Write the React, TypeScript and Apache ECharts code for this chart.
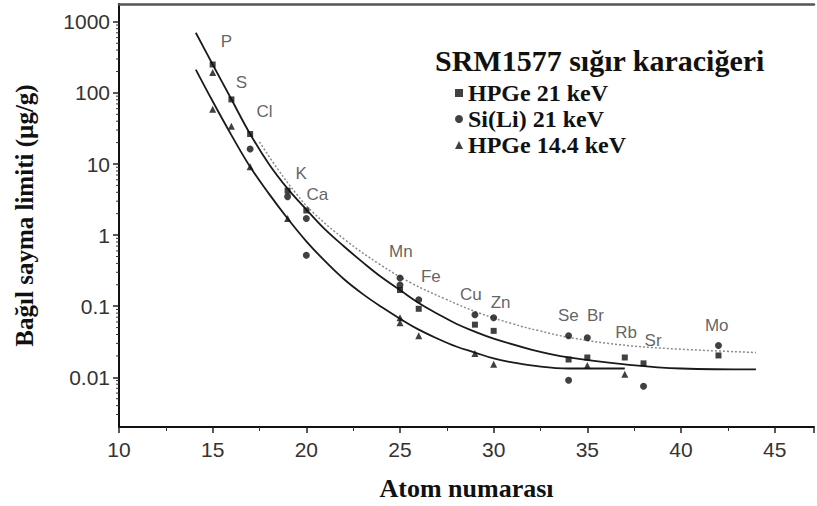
import React, { useEffect, useRef } from "react";
import * as echarts from "echarts";

// ---- axis ----
const X_MIN = 10;
const X_MAX = 47.1;
const Y_MIN = 0.002;
const Y_MAX = 1780;
const decades = [0.001, 0.01, 0.1, 1, 10, 100, 1000];
const minorMultipliers = [2, 3, 4, 5, 6, 7, 8, 9];

// ---- measured points [atomic number, detection limit µg/g] ----
const hpge21Points: [number, number][] = [
  [15, 251], [16, 81], [17, 26.4], [19, 4.22], [20, 2.22], [25, 0.169], [26, 0.092],
  [29, 0.055], [30, 0.045], [34, 0.0178], [35, 0.019], [37, 0.019], [38, 0.0157], [42, 0.0203],
];
const sili21Points: [number, number][] = [
  [17, 16.3], [19, 3.48], [20, 1.71], [20, 0.52], [25, 0.249], [25, 0.199], [26, 0.123],
  [29, 0.0757], [30, 0.0687], [34, 0.0385], [34, 0.0091], [35, 0.0361], [38, 0.0075], [42, 0.028],
];
const hpge144Points: [number, number][] = [
  [15, 194], [15, 59], [16, 34.1], [17, 9.12], [19, 1.71], [25, 0.0687], [25, 0.0586],
  [26, 0.0385], [29, 0.0216], [30, 0.0152], [35, 0.0147], [37, 0.011],
];

// ---- fitted curves ----
const upperCurve: [number, number][] = [
  [14.1, 701], [15, 251], [16, 81.3], [17, 26.4], [18, 10.0], [19, 4.5], [20, 2.29], [21, 1.2],
  [22, 0.697], [23, 0.417], [24, 0.257], [25, 0.169], [26, 0.111], [27, 0.0782], [28, 0.0567],
  [29, 0.0439], [30, 0.035], [32, 0.0246], [34, 0.019], [37, 0.0152], [40, 0.0133], [44, 0.0129],
];
const lowerCurve: [number, number][] = [
  [14.1, 213], [15, 76.3], [16, 25.5], [17, 9.12], [18, 3.83], [19, 1.71], [20, 0.818],
  [21, 0.43], [22, 0.241], [23, 0.149], [24, 0.098], [25, 0.0667], [26, 0.0468], [27, 0.035],
  [28, 0.0271], [29, 0.0223], [30, 0.0184], [31, 0.0162], [32, 0.0147], [34, 0.0133], [37, 0.0133],
];
const dottedCurve: [number, number][] = [
  [17.5, 20.4], [18.5, 8.29], [19.5, 3.71], [20.3, 2.15], [22.1, 0.845], [23.9, 0.391],
  [25.6, 0.212], [27.4, 0.127], [29.2, 0.0807], [31, 0.0567], [32.4, 0.0453], [34.1, 0.0361],
  [36.7, 0.0288], [39.3, 0.0254], [44, 0.0223],
];

// ---- element annotations ----
const elementNames = ["P", "S", "Cl", "K", "Ca", "Mn", "Fe", "Cu", "Zn", "Se", "Br", "Rb", "Sr", "Mo"];
const elementLabelZ = [15.74, 16.54, 17.77, 19.73, 20.59, 25.05, 26.65, 28.78, 30.37, 33.99, 35.43, 37.07, 38.51, 41.91];
const elementLabelY = [525, 141, 55.3, 7.29, 3.71, 0.593, 0.265, 0.144, 0.111, 0.0733, 0.0733, 0.0425, 0.0328, 0.0532];

const legendTitle = "SRM1577 sığır karaciğeri";
const seriesNames = ["HPGe 21 keV", "Si(Li) 21 keV", "HPGe 14.4 keV"];

const SERIF = "'Liberation Serif', 'DejaVu Serif', serif";
const SANS = "'Liberation Sans', Arial, sans-serif";

export default function App() {
  const ref = useRef<HTMLDivElement>(null);
  useEffect(() => {
    if (!ref.current) return;
    const chart = echarts.init(ref.current, null, { renderer: "svg" });
    const minorTicks: [number, number][] = [];
    decades.forEach((d) =>
      minorMultipliers.forEach((m) => {
        const v = d * m;
        if (v > Y_MIN && v < Y_MAX) minorTicks.push([X_MIN, v]);
      })
    );
    const curveStyle = { color: "#1a1a1a", width: 1.8 };
    chart.setOption({
      animation: false,
      backgroundColor: "#ffffff",
      title: {
        text: legendTitle,
        left: 430,
        top: 40,
        textStyle: { fontFamily: SERIF, fontWeight: "bold", fontSize: 30, color: "#111" },
      },
      legend: {
        data: seriesNames,
        orient: "vertical",
        left: 450,
        top: 76,
        itemWidth: 8,
        itemHeight: 8,
        itemGap: 2,
        textStyle: {
          fontFamily: SERIF,
          fontWeight: "bold",
          fontSize: 24,
          lineHeight: 24,
          color: "#111",
        },
        selectedMode: false,
      },
      grid: { left: 119, right: 0, top: 4, bottom: 76 },
      xAxis: [
        {
          type: "value",
          min: X_MIN,
          max: X_MAX,
          interval: 5,
          name: "Atom numarası",
          nameLocation: "middle",
          nameGap: 48,
          nameTextStyle: { fontFamily: SERIF, fontWeight: "bold", fontSize: 26, color: "#111" },
          splitLine: { show: false },
          axisLine: { lineStyle: { color: "#111", width: 2 } },
          axisTick: { length: 6, lineStyle: { color: "#222", width: 1.5 } },
          minorTick: { show: true, splitNumber: 2, length: 4, lineStyle: { color: "#333" } },
          axisLabel: {
            margin: 12,
            fontFamily: SANS,
            fontSize: 21,
            color: "#333",
            formatter: (v: number) => (v > 45 ? "" : String(v)),
          },
        },
        {
          type: "value",
          position: "top",
          min: X_MIN,
          max: X_MAX,
          axisLine: { show: true, lineStyle: { color: "#555", width: 2.5 } },
          axisTick: { show: false },
          axisLabel: { show: false },
          splitLine: { show: false },
        },
      ],
      yAxis: {
        type: "log",
        logBase: 10,
        min: Y_MIN,
        max: Y_MAX,
        name: "Bağıl sayma limiti (µg/g)",
        nameLocation: "middle",
        nameGap: 82,
        nameTextStyle: { fontFamily: SERIF, fontWeight: "bold", fontSize: 25, color: "#111" },
        splitLine: { show: false },
        axisLine: { show: true, lineStyle: { color: "#111", width: 2 } },
        axisTick: { length: 6, lineStyle: { color: "#222", width: 1.5 } },
        axisLabel: {
          margin: 9,
          fontFamily: SANS,
          fontSize: 21,
          color: "#333",
          showMinLabel: false,
          showMaxLabel: false,
          formatter: (v: number) => {
            if (v < 0.0095 || v > 1100) return "";
            return String(Number(v.toPrecision(1)));
          },
        },
      },
      series: [
        {
          type: "custom",
          silent: true,
          clip: false,
          data: minorTicks,
          encode: { x: 0, y: 1 },
          renderItem: (_p: any, api: any) => {
            const pt = api.coord([api.value(0), api.value(1)]);
            return {
              type: "line",
              shape: { x1: pt[0] - 3, y1: pt[1], x2: pt[0], y2: pt[1] },
              style: { stroke: "#333", lineWidth: 1 },
            };
          },
        },
        {
          type: "line",
          data: upperCurve,
          smooth: 0.4,
          showSymbol: false,
          silent: true,
          lineStyle: curveStyle,
          z: 2,
        },
        {
          type: "line",
          data: lowerCurve,
          smooth: 0.4,
          showSymbol: false,
          silent: true,
          lineStyle: curveStyle,
          z: 2,
        },
        {
          type: "line",
          data: dottedCurve,
          smooth: 0.4,
          showSymbol: false,
          silent: true,
          lineStyle: { color: "#8a8a8a", width: 1.5, type: [2, 2] },
          z: 2,
        },
        {
          name: seriesNames[0],
          type: "scatter",
          symbol: "rect",
          symbolSize: 6,
          itemStyle: { color: "#111" },
          data: hpge21Points,
          z: 5,
        },
        {
          name: seriesNames[1],
          type: "scatter",
          symbol: "circle",
          symbolSize: 7,
          itemStyle: { color: "#111" },
          data: sili21Points,
          z: 5,
        },
        {
          name: seriesNames[2],
          type: "scatter",
          symbol: "triangle",
          symbolSize: 7,
          itemStyle: { color: "#111" },
          data: hpge144Points,
          z: 5,
        },
        {
          type: "scatter",
          symbolSize: 0,
          silent: true,
          data: elementNames.map((n, i) => ({ name: n, value: [elementLabelZ[i], elementLabelY[i]] })),
          label: {
            show: true,
            position: "inside",
            formatter: "{b}",
            fontFamily: SANS,
            fontSize: 17,
            color: "#3a3a3a",
          },
          z: 6,
        },
      ],
    });
    return () => chart.dispose();
  }, []);
  return (
    <div
      ref={ref}
      style={{ position: "fixed", left: 0, top: 0, width: 817, height: 506, background: "#fff" }}
    />
  );
}
